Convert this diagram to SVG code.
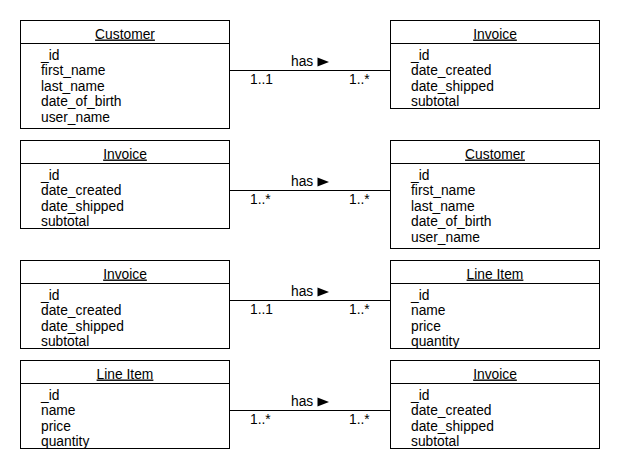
<svg xmlns="http://www.w3.org/2000/svg" width="620" height="470" viewBox="0 0 620 470">
<style>
text{font-family:"Liberation Sans",Arial,sans-serif;font-size:13.8px;fill:#000}
.t{text-anchor:middle;text-decoration:underline}
.b{fill:#fff;stroke:#000;stroke-width:1}
.l{stroke:#000;stroke-width:1;fill:none}
</style>
<rect width="620" height="470" fill="#fff"/>
<g id="connectors">
<g id="c1"><line class="l" x1="229.5" y1="70.5" x2="390.5" y2="70.5"/><text x="291" y="66">has</text><path d="M317.5 57.5 L329 62 L317.5 66.5Z"/><text x="250" y="83.5">1..1</text><text x="349" y="83.5">1..*</text></g>
<g id="c2"><line class="l" x1="229.5" y1="190.5" x2="390.5" y2="190.5"/><text x="291" y="186">has</text><path d="M317.5 177.5 L329 182 L317.5 186.5Z"/><text x="250" y="203.5">1..*</text><text x="349" y="203.5">1..*</text></g>
<g id="c3"><line class="l" x1="229.5" y1="300.5" x2="390.5" y2="300.5"/><text x="291" y="296">has</text><path d="M317.5 287.5 L329 292 L317.5 296.5Z"/><text x="250" y="313.5">1..1</text><text x="349" y="313.5">1..*</text></g>
<g id="c4"><line class="l" x1="229.5" y1="410.5" x2="390.5" y2="410.5"/><text x="291" y="406">has</text><path d="M317.5 397.5 L329 402 L317.5 406.5Z"/><text x="250" y="423.5">1..*</text><text x="349" y="423.5">1..*</text></g>
</g>
<g id="customer1" transform="translate(20.5,20.5)">
<rect class="b" width="209" height="108"/><line class="l" x1="0" y1="23" x2="209" y2="23"/>
<text class="t" x="104.5" y="18">Customer</text>
<text x="20.5" y="39">_id</text><text x="20.5" y="54.6">first_name</text><text x="20.5" y="70.2">last_name</text><text x="20.5" y="85.8">date_of_birth</text><text x="20.5" y="101.4">user_name</text>
</g>
<g id="invoice1" transform="translate(390.5,20.5)">
<rect class="b" width="209" height="88"/><line class="l" x1="0" y1="23" x2="209" y2="23"/>
<text class="t" x="104.5" y="18">Invoice</text>
<text x="20.5" y="39">_id</text><text x="20.5" y="54.6">date_created</text><text x="20.5" y="70.2">date_shipped</text><text x="20.5" y="85.8">subtotal</text>
</g>
<g id="invoice2" transform="translate(20.5,140.5)">
<rect class="b" width="209" height="88"/><line class="l" x1="0" y1="23" x2="209" y2="23"/>
<text class="t" x="104.5" y="18">Invoice</text>
<text x="20.5" y="39">_id</text><text x="20.5" y="54.6">date_created</text><text x="20.5" y="70.2">date_shipped</text><text x="20.5" y="85.8">subtotal</text>
</g>
<g id="customer2" transform="translate(390.5,140.5)">
<rect class="b" width="209" height="108"/><line class="l" x1="0" y1="23" x2="209" y2="23"/>
<text class="t" x="104.5" y="18">Customer</text>
<text x="20.5" y="39">_id</text><text x="20.5" y="54.6">first_name</text><text x="20.5" y="70.2">last_name</text><text x="20.5" y="85.8">date_of_birth</text><text x="20.5" y="101.4">user_name</text>
</g>
<g id="invoice3" transform="translate(20.5,260.5)">
<rect class="b" width="209" height="88"/><line class="l" x1="0" y1="23" x2="209" y2="23"/>
<text class="t" x="104.5" y="18">Invoice</text>
<text x="20.5" y="39">_id</text><text x="20.5" y="54.6">date_created</text><text x="20.5" y="70.2">date_shipped</text><text x="20.5" y="85.8">subtotal</text>
</g>
<g id="lineitem3" transform="translate(390.5,260.5)">
<rect class="b" width="209" height="88"/><line class="l" x1="0" y1="23" x2="209" y2="23"/>
<text class="t" x="104.5" y="18">Line Item</text>
<text x="20.5" y="39">_id</text><text x="20.5" y="54.6">name</text><text x="20.5" y="70.2">price</text><text x="20.5" y="85.8">quantity</text>
</g>
<g id="lineitem4" transform="translate(20.5,360.5)">
<rect class="b" width="209" height="88"/><line class="l" x1="0" y1="23" x2="209" y2="23"/>
<text class="t" x="104.5" y="18">Line Item</text>
<text x="20.5" y="39">_id</text><text x="20.5" y="54.6">name</text><text x="20.5" y="70.2">price</text><text x="20.5" y="85.8">quantity</text>
</g>
<g id="invoice4" transform="translate(390.5,360.5)">
<rect class="b" width="209" height="88"/><line class="l" x1="0" y1="23" x2="209" y2="23"/>
<text class="t" x="104.5" y="18">Invoice</text>
<text x="20.5" y="39">_id</text><text x="20.5" y="54.6">date_created</text><text x="20.5" y="70.2">date_shipped</text><text x="20.5" y="85.8">subtotal</text>
</g>
</svg>
